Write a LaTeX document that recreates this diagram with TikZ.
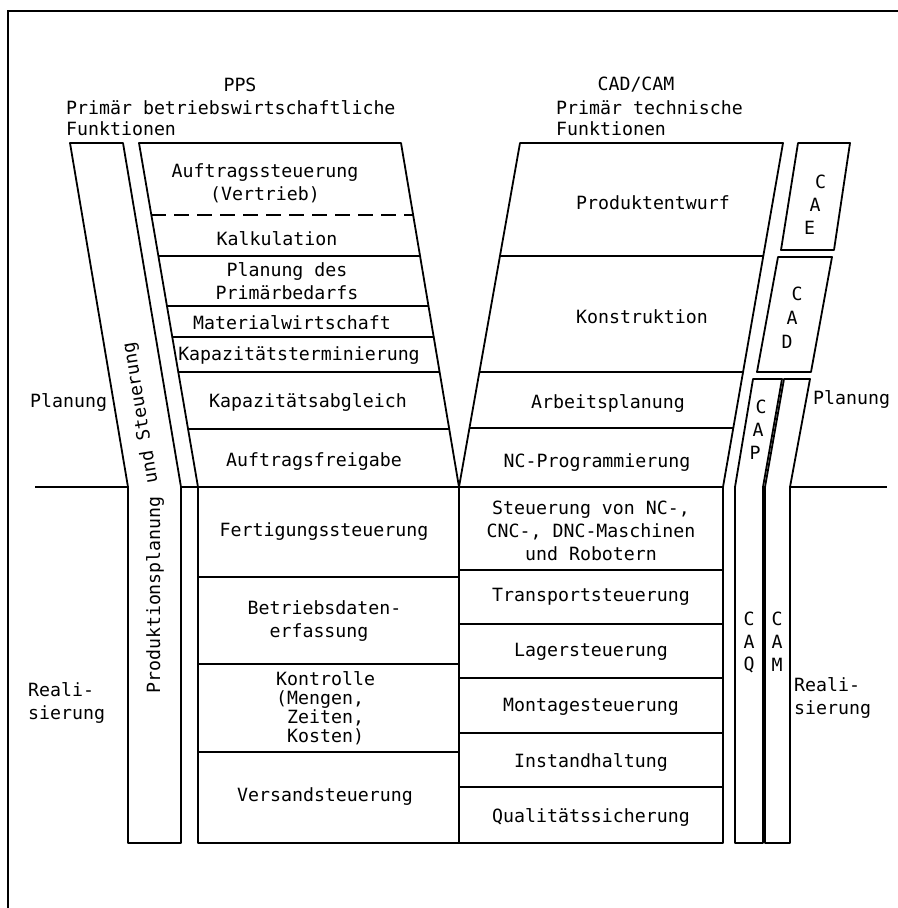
\documentclass[tikz,border=0pt]{standalone}
\usepackage{fontspec}
\setmonofont{DejaVu Sans Mono}
\usepackage{tikz}
\usetikzlibrary{%
  positioning
 ,calc
}
\tikzstyle{box}=[line width=1.8bp,line join=round]
\tikzstyle{txt}=[font=\ttfamily\fontsize{18.3}{23}\selectfont,inner sep=0pt,align=center]
\tikzstyle{lbl}=[txt,align=left,anchor=west]
\tikzstyle{row}=[txt,on grid,node distance=55bp]

\begin{document}
\begin{tikzpicture}[x=1bp,y=-1bp]
  \useasboundingbox (0,0) rectangle (898,908);
  \draw[line width=2.4bp] (8,908) -- (8,11) -- (898,11);

  % Planung / Realisierung
  \draw[box] (35,487) -- (128,487) (181,487) -- (198,487) (790,487) -- (887,487);

  % PPS
  \draw[box] (70,143) -- (123,143) -- (181,487) -- (181,843) -- (128,843) -- (128,487) -- cycle;
  \draw[box] (139,143) -- (401,143) -- (459,487) -- (459,843) -- (198,843) -- (198,487) -- cycle;
  \draw[box] (198,487) -- (459,487);
  \begin{scope}
    \clip (139,143) -- (401,143) -- (459,487) -- (198,487) -- cycle;
    \foreach \y in {256,306,337,372,429}
      \draw[box] (100,\y) -- (500,\y);
  \end{scope}
  \draw[box,dash pattern=on 15bp off 8bp] (151,215) -- (413,215);
  \foreach \y in {577,664,752}
    \draw[box] (198,\y) -- (459,\y);

  % CAD/CAM
  \draw[box] (520,143) -- (783,143) -- (723,487) -- (723,843) -- (459,843) -- (459,487) -- cycle;
  \draw[box] (459,487) -- (723,487);
  \begin{scope}
    \clip (520,143) -- (783,143) -- (723,487) -- (459,487) -- cycle;
    \foreach \y in {256,372,428}
      \draw[box] (400,\y) -- (800,\y);
  \end{scope}
  \foreach \y in {570,624,678,733,787}
    \draw[box] (459,\y) -- (723,\y);

  \draw[box] (798,143) -- (850,143) -- (834,250) -- (781,250) -- cycle;
  \draw[box] (778,257) -- (832,257) -- (811,372) -- (757,372) -- cycle;
  \draw[box] (753,379) -- (782,379) -- (763,487) -- (763,843) -- (735,843) -- (735,487) -- cycle;
  \draw[box] (784,379) -- (810,379) -- (790,487) -- (790,843) -- (765,843) -- (765,487) -- cycle;

  % Kopf
  \node[txt] (h_0) at (240,85) {PPS};
  \node[lbl,align=left,font=\ttfamily\fontsize{18.3}{21}\selectfont] (h_1) at (66,118)
    {Primär betriebswirtschaftliche\\Funktionen};
  \node[txt] (h_2) at (636,85) {CAD/CAM};
  \node[lbl,align=left,font=\ttfamily\fontsize{18.3}{21}\selectfont] (h_3) at (556,118)
    {Primär technische\\Funktionen};

  \node[lbl] (l_1) at (30,402) {Planung};
  \node[lbl] (l_2) at (28,703) {Reali-\\sierung};
  \node[lbl] (l_3) at (813,399) {Planung};
  \node[lbl] (l_4) at (794,698) {Reali-\\sierung};

  \node[txt,rotate=90] (l_5) at (155,595) {Produktionsplanung};
  \node[txt,rotate=99.5] (l_6) at (141,413) {und Steuerung};

  % PPS Funktionen
  \node[txt] (p_1) at (265,183) {Auftragssteuerung\\(Vertrieb)};
  \node[txt] (p_2) at (277,239) {Kalkulation};
  \node[txt] (p_3) at (287,281) {Planung des\\Primärbedarfs};
  \node[txt] (p_4) at (292,323) {Materialwirtschaft};
  \node[txt] (p_5) at (299,356) {Kapazitätsterminierung};
  \node[txt] (p_6) at (308,402) {Kapazitätsabgleich};
  \node[txt] (p_7) at (314,462) {Auftragsfreigabe};
  \node[txt] (p_8) at (324,532) {Fertigungssteuerung};
  \node[txt] (p_9) at (319,621) {Betriebsdaten\rlap{-}\\erfassung};
  \node[lbl,font=\ttfamily\fontsize{18.3}{19}\selectfont] (p_10) at (276,708)
    {Kontrolle\\(Mengen,\\\hphantom{(}Zeiten,\\\hphantom{(}Kosten)};
  \node[txt] (p_11) at (325,797) {Versandsteuerung};

  % CAD/CAM Funktionen
  \node[txt] (c_1) at (653,203) {Produktentwurf};
  \node[txt] (c_2) at (642,317) {Konstruktion};
  \node[txt] (c_3) at (608,403) {Arbeitsplanung};
  \node[txt] (c_4) at (597,463) {NC-Programmierung};
  \node[txt] (c_5) at (591,531) {Steuerung von NC-,\\CNC-, DNC-Maschinen\\und Robotern};
  \node[txt] (c_6) at (591,597) {Transportsteuerung};
  \node[row] (c_7) [below=of c_6] {Lagersteuerung};
  \node[row] (c_8) [below=of c_7] {Montagesteuerung};
  \node[row] (c_9) [below=of c_8] {Instandhaltung};
  \node[row] (c_10) [below=of c_9] {Qualitätssicherung};

  % CAx
  \foreach \l [count=\i] in {C,A,E}
    \node[txt] (e_\i) at (826-5.5*\i,159+23*\i) {\l};
  \foreach \l [count=\i] in {C,A,D}
    \node[txt] (d_\i) at (802-5*\i,270+24*\i) {\l};
  \foreach \l [count=\i] in {C,A,P}
    \node[txt] (f_\i) at (764-3*\i,384+23*\i) {\l};
  \foreach \l [count=\i] in {C,A,Q}
    \node[txt] (q_\i) at (749,596+23*\i) {\l};
  \foreach \l [count=\i] in {C,A,M}
    \node[txt] (m_\i) at (777,596+23*\i) {\l};
\end{tikzpicture}
\end{document}
